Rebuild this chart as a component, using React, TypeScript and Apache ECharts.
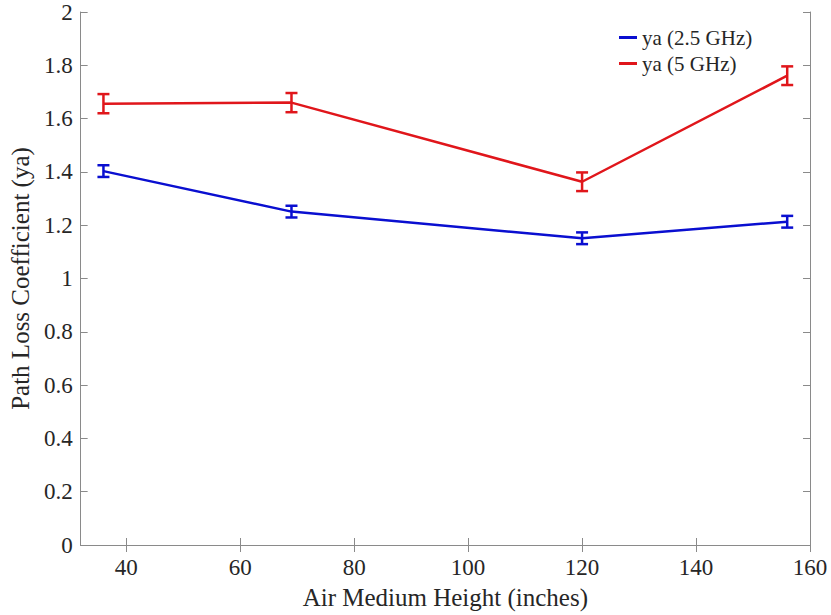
import React, { useEffect, useRef } from "react";
import * as echarts from "echarts";

const heights = [36, 69, 120, 156];
const ya25 = [1.403, 1.251, 1.151, 1.213];
const ya25Err = [0.022, 0.022, 0.022, 0.022];
const ya5 = [1.656, 1.66, 1.363, 1.761];
const ya5Err = [0.036, 0.036, 0.035, 0.035];
const xTicks = [40, 60, 80, 100, 120, 140, 160];
const seriesNames = ["ya (2.5 GHz)", "ya (5 GHz)"];
const xTitle = "Air Medium Height (inches)";
const yTitle = "Path Loss Coefficient (ya)";

const BLUE = "#0a0fd0";
const RED = "#e0161b";
const AXIS = "#8a8a8a";
const TEXT = "#262626";
const FONT = "Liberation Serif";

function errData(vals: number[], errs: number[]) {
  return heights.map((h, i) => [h, vals[i] - errs[i], vals[i] + errs[i]]);
}

function errRender(color: string) {
  return (params: any, api: any) => {
    const lo = api.coord([api.value(0), api.value(1)]);
    const hi = api.coord([api.value(0), api.value(2)]);
    const hw = 6;
    const style = { stroke: color, lineWidth: 2.5 };
    return {
      type: "group",
      children: [
        { type: "line", shape: { x1: lo[0], y1: lo[1], x2: hi[0], y2: hi[1] }, style },
        { type: "line", shape: { x1: lo[0] - hw, y1: lo[1], x2: lo[0] + hw, y2: lo[1] }, style },
        { type: "line", shape: { x1: hi[0] - hw, y1: hi[1], x2: hi[0] + hw, y2: hi[1] }, style },
      ],
    };
  };
}

export default function App() {
  const ref = useRef<HTMLDivElement>(null);
  useEffect(() => {
    if (!ref.current) return;
    const chart = echarts.init(ref.current, undefined, { renderer: "svg" });
    const axisLine = { show: true, lineStyle: { color: AXIS, width: 1 } };
    const xBase = {
      type: "value",
      min: 32,
      max: 160,
      splitLine: { show: false },
      axisLine,
    };
    const yBase = {
      type: "value",
      min: 0,
      max: 2,
      interval: 0.2,
      splitLine: { show: false },
      axisLine,
    };
    chart.setOption({
      animation: false,
      backgroundColor: "#ffffff",
      textStyle: { fontFamily: FONT, color: TEXT },
      grid: { left: 74, right: 21, top: 12, bottom: 70, containLabel: false },
      legend: {
        orient: "vertical",
        left: 614,
        top: 22,
        itemWidth: 18,
        itemHeight: 3,
        itemGap: 5,
        icon: "rect",
        data: seriesNames,
        textStyle: { fontFamily: FONT, fontSize: 21, color: TEXT, lineHeight: 21 },
      },
      xAxis: [
        {
          ...xBase,
          position: "bottom",
          name: xTitle,
          nameLocation: "middle",
          nameGap: 40,
          nameTextStyle: { fontFamily: FONT, fontSize: 25, color: TEXT },
          axisTick: { show: true, inside: true, length: 7, lineStyle: { color: AXIS }, customValues: xTicks },
          axisLabel: {
            show: true,
            margin: 11,
            fontFamily: FONT,
            fontSize: 23,
            color: TEXT,
            customValues: xTicks,
          },
        },
        {
          ...xBase,
          position: "top",
          axisTick: { show: true, inside: true, length: 7, lineStyle: { color: AXIS }, customValues: xTicks },
          axisLabel: { show: false },
        },
      ],
      yAxis: [
        {
          ...yBase,
          position: "left",
          name: yTitle,
          nameLocation: "middle",
          nameGap: 37,
          nameTextStyle: { fontFamily: FONT, fontSize: 25, color: TEXT },
          axisTick: { show: true, inside: true, length: 7, lineStyle: { color: AXIS } },
          axisLabel: { show: true, margin: 8, fontFamily: FONT, fontSize: 23, color: TEXT },
        },
        {
          ...yBase,
          position: "right",
          axisTick: { show: true, inside: true, length: 7, lineStyle: { color: AXIS } },
          axisLabel: { show: false },
        },
      ],
      series: [
        {
          name: seriesNames[0],
          type: "line",
          data: heights.map((h, i) => [h, ya25[i]]),
          symbol: "none",
          lineStyle: { color: BLUE, width: 2.5 },
          itemStyle: { color: BLUE },
          xAxisIndex: 0,
          yAxisIndex: 0,
        },
        {
          name: seriesNames[1],
          type: "line",
          data: heights.map((h, i) => [h, ya5[i]]),
          symbol: "none",
          lineStyle: { color: RED, width: 2.5 },
          itemStyle: { color: RED },
          xAxisIndex: 0,
          yAxisIndex: 0,
        },
        {
          name: "err25",
          type: "custom",
          data: errData(ya25, ya25Err),
          renderItem: errRender(BLUE),
          xAxisIndex: 0,
          yAxisIndex: 0,
          z: 3,
        },
        {
          name: "err5",
          type: "custom",
          data: errData(ya5, ya5Err),
          renderItem: errRender(RED),
          xAxisIndex: 0,
          yAxisIndex: 0,
          z: 3,
        },
      ],
    });
    return () => chart.dispose();
  }, []);
  return (
    <div
      ref={ref}
      style={{ position: "fixed", left: 0, top: 0, width: 831, height: 615, background: "#fff" }}
    />
  );
}
